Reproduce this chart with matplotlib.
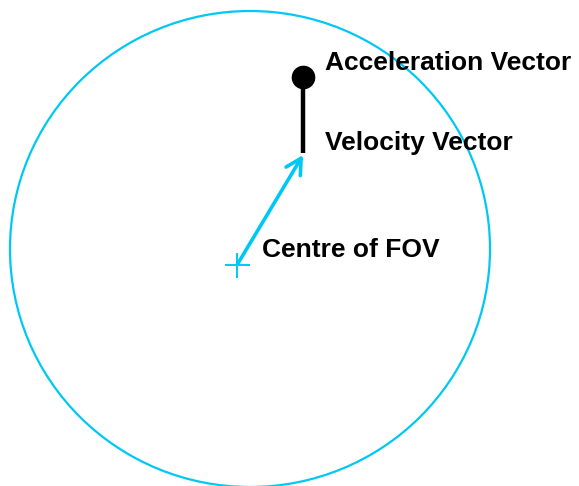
import matplotlib
matplotlib.use("Agg")
import matplotlib.pyplot as plt
from matplotlib.patches import Ellipse

# Geometry (pixel-like coordinates, y down)
fov_center = (250, 249)
fov_size = (480, 476)
centre_point = (237, 265)
velocity_tip = (303, 155)
accel_point = (303, 77)

labels = ["Acceleration Vector", "Velocity Vector", "Centre of FOV"]
label_pos = [(325, 70), (325, 150), (262, 257)]

cyan = "#00C8F5"

fig = plt.figure(figsize=(5.79, 4.86), dpi=100)
ax = fig.add_axes([0, 0, 1, 1])
ax.set_xlim(0, 579)
ax.set_ylim(486, 0)
ax.set_aspect("auto")
ax.axis("off")

ax.add_patch(Ellipse(fov_center, fov_size[0], fov_size[1], fill=False,
                     edgecolor=cyan, linewidth=1.6))

ax.plot([centre_point[0]], [centre_point[1]], marker="+", markersize=18,
        markeredgewidth=1.4, color=cyan)

ax.annotate("", xy=velocity_tip, xytext=centre_point,
            arrowprops=dict(arrowstyle="->,head_length=1.1,head_width=0.6",
                            color=cyan, lw=2.6, shrinkA=0, shrinkB=0))

ax.plot([velocity_tip[0], accel_point[0]], [velocity_tip[1] - 2, accel_point[1]],
        color="black", lw=3.2, solid_capstyle="butt")
ax.plot([accel_point[0]], [accel_point[1]], marker="o", markersize=16,
        color="black")

for t, (x, y) in zip(labels, label_pos):
    ax.text(x, y, t, fontsize=19, fontweight="bold", family="Liberation Sans",
            ha="left", va="baseline", color="black")

fig.savefig("out.png", dpi=100)
